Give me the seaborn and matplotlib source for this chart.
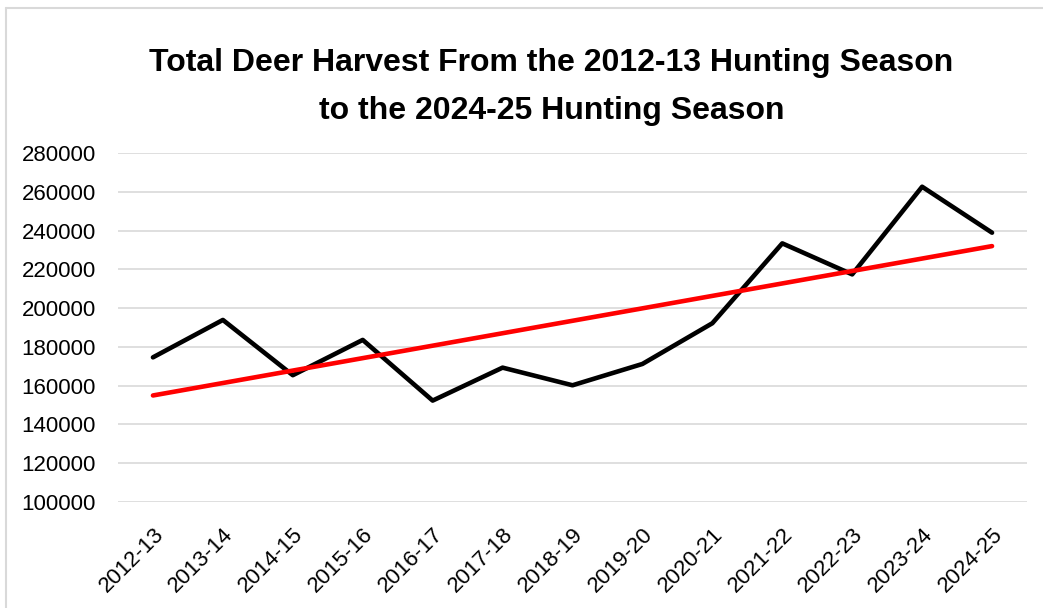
import numpy as np
import pandas as pd
import matplotlib
matplotlib.use("Agg")
import matplotlib.pyplot as plt
from matplotlib.lines import Line2D
import seaborn as sns

# ── data ──
seasons = ["2012-13", "2013-14", "2014-15", "2015-16", "2016-17", "2017-18",
           "2018-19", "2019-20", "2020-21", "2021-22", "2022-23", "2023-24",
           "2024-25"]
harvest = [174600, 193900, 165400, 183600, 152300, 169300,
           160200, 171200, 192200, 233400, 217400, 262600, 238900]
y_ticks = [100000, 120000, 140000, 160000, 180000, 200000, 220000,
           240000, 260000, 280000]

TITLE = "Total Deer Harvest From the 2012-13 Hunting Season\nto the 2024-25 Hunting Season"
GRID = "#D9D9D9"

df = pd.DataFrame({"season": seasons, "harvest": harvest})
df["idx"] = np.arange(len(df))
# linear trendline, like Excel's
slope, icpt = np.polyfit(df["idx"], df["harvest"], 1)
df["trend"] = icpt + slope * df["idx"]

sns.set_theme(style="white")
plt.rcParams["font.family"] = ["Liberation Sans", "DejaVu Sans"]
plt.rcParams["text.color"] = "black"

W, H = 1043, 608
fig = plt.figure(figsize=(W / 100, H / 100), dpi=100)
ax = fig.add_axes([118 / W, 1 - 502 / H, (1027 - 118) / W, (502 - 153) / H])

sns.lineplot(data=df, x="idx", y="harvest", ax=ax, color="black",
             linewidth=3.3, solid_capstyle="round", zorder=3)
sns.lineplot(data=df, x="idx", y="trend", ax=ax, color="#FF0000",
             linewidth=3.3, solid_capstyle="round", zorder=4)

ax.set_xlim(-0.5, len(seasons) - 0.5)
ax.set_ylim(100000, 280000)
ax.set_yticks(y_ticks)
ax.set_yticklabels([str(v) for v in y_ticks], fontsize=16)
ax.set_xticks(df["idx"])
ax.set_xticklabels(seasons, fontsize=16, rotation=45, ha="right",
                   rotation_mode="anchor")
ax.tick_params(axis="both", length=0, labelcolor="black")
ax.tick_params(axis="y", pad=16)
ax.tick_params(axis="x", pad=16)
ax.set_xlabel("")
ax.set_ylabel("")
ax.grid(axis="y", color=GRID, linewidth=1.2)
ax.grid(axis="x", visible=False)
ax.set_axisbelow(True)
for s in ax.spines.values():
    s.set_visible(False)

fig.text(551.5 / W, 1 - 48 / H, TITLE, ha="center", va="top",
         fontsize=23, fontweight="bold", linespacing=1.78, color="black")

# chart-area border (only left and top edges are in frame)
fig.add_artist(Line2D([6 / W, 6 / W], [0, 1 - 8 / H], color=GRID, lw=1.5))
fig.add_artist(Line2D([6 / W, 1], [1 - 8 / H, 1 - 8 / H], color=GRID, lw=1.5))

fig.savefig("out.png", dpi=100)
